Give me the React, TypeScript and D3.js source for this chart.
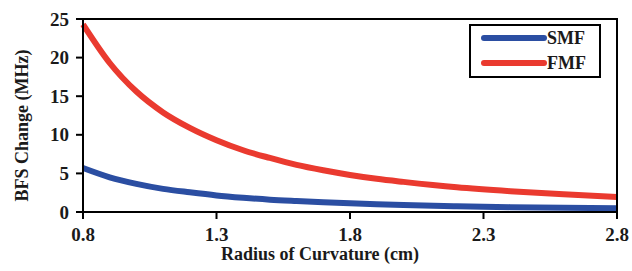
import React from "react";
import * as d3 from "d3";

const radius = [0.8, 0.9, 1.0, 1.1, 1.2, 1.3, 1.4, 1.5, 1.6, 1.7, 1.8, 1.9, 2.0, 2.2, 2.4, 2.6, 2.8];
const fmf = [24.3, 19.3, 15.6, 12.9, 10.9, 9.3, 8.0, 7.0, 6.1, 5.4, 4.8, 4.3, 3.9, 3.2, 2.7, 2.3, 1.95];
const smf = [5.7, 4.5, 3.65, 3.0, 2.55, 2.15, 1.85, 1.6, 1.42, 1.26, 1.12, 1.0, 0.9, 0.75, 0.63, 0.54, 0.47];
const xTicks = [0.8, 1.3, 1.8, 2.3, 2.8];
const yTicks = [0, 5, 10, 15, 20, 25];

const width = 632;
const height = 271;
const margin = { top: 19, right: 15, bottom: 59, left: 83 };
const font = "'Liberation Serif', serif";

const series = [
  { name: "SMF", values: smf, color: "#2b4ea2" },
  { name: "FMF", values: fmf, color: "#ea3a2f" },
];

const App = () => {
  const innerWidth = width - margin.left - margin.right;
  const innerHeight = height - margin.top - margin.bottom;

  const xScale = d3.scaleLinear().domain([0.8, 2.8]).range([0, innerWidth]);
  const yScale = d3.scaleLinear().domain([0, 25]).range([innerHeight, 0]);

  const line = d3
    .line<number>()
    .x((d, i) => xScale(radius[i]))
    .y((d) => yScale(d))
    .curve(d3.curveMonotoneX);

  return (
    <svg
      width={width}
      height={height}
      style={{ position: "absolute", left: 0, top: 0, background: "#fff" }}
      fontFamily={font}
      fontWeight="bold"
    >
      <g transform={`translate(${margin.left},${margin.top})`}>
        {series.map((s) => (
          <path
            key={s.name}
            d={line(s.values) || ""}
            fill="none"
            stroke={s.color}
            strokeWidth={6}
          />
        ))}
        <rect x={0} y={0} width={innerWidth} height={innerHeight} fill="none" stroke="#000" strokeWidth={2} />
        {yTicks.map((t) => (
          <g key={t} transform={`translate(0,${yScale(t)})`}>
            <line x1={-7} x2={0} stroke="#000" strokeWidth={2} />
            <text x={-14} dy="0.35em" textAnchor="end" fontSize={19} fill="#1a1a1a">
              {t}
            </text>
          </g>
        ))}
        {xTicks.map((t) => (
          <g key={t} transform={`translate(${xScale(t)},${innerHeight})`}>
            <line y1={0} y2={7} stroke="#000" strokeWidth={2} />
            <text y={29} textAnchor="middle" fontSize={19} fill="#1a1a1a">
              {t.toFixed(1)}
            </text>
          </g>
        ))}
        <text x={innerWidth / 2 - 30} y={innerHeight + 48} textAnchor="middle" fontSize={18} fill="#1a1a1a">
          Radius of Curvature (cm)
        </text>
        <text
          transform={`translate(${-55},${innerHeight / 2 + 10}) rotate(-90)`}
          textAnchor="middle"
          fontSize={18}
          fill="#1a1a1a"
        >
          BFS Change (MHz)
        </text>
        <g transform={`translate(${innerWidth - 147},6)`}>
          <rect width={130} height={52} fill="#fff" stroke="#000" strokeWidth={2} />
          {series.map((s, i) => (
            <g key={s.name} transform={`translate(0,${13 + i * 25})`}>
              <line x1={14} x2={74} stroke={s.color} strokeWidth={6} strokeLinecap="round" />
              <text x={77} dy="0.35em" fontSize={18} fill="#1a1a1a">
                {s.name}
              </text>
            </g>
          ))}
        </g>
      </g>
    </svg>
  );
};

export default App;
